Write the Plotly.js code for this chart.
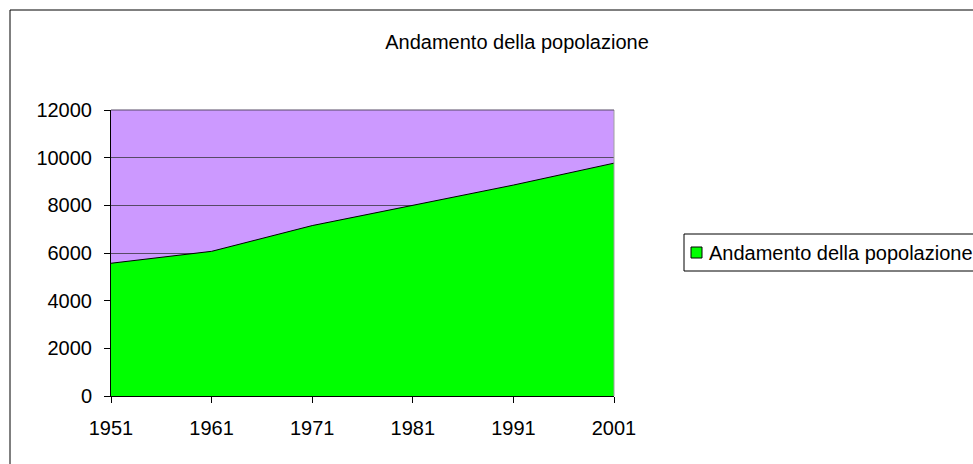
<!DOCTYPE html>
<html>
<head>
<meta charset="utf-8">
<script src="https://cdn.plot.ly/plotly-3.0.1.min.js"></script>
<style>
  body { margin: 0; background: #fff; }
  #myPlot { width: 973px; height: 464px; }
</style>
</head>
<body>
<div id="myPlot"></div>
<script>
var years = [1951, 1961, 1971, 1981, 1991, 2001]
var abitanti = [5570, 6070, 7150, 8000, 8850, 9770]
var yTicks = [0, 2000, 4000, 6000, 8000, 10000, 12000]
var seriesName = "Andamento della popolazione"
var chartTitle = "Andamento della popolazione"

// plot area in pixels: left 111, right 614, top 110, bottom 396
var L = 111, R = 614, T = 110, B = 396
var px = function (x) { return (x - L) / (R - L) }
var py = function (y) { return (B - y) / (B - T) }

var data = [{
    x: years,
    y: abitanti,
    name: seriesName,
    type: "scatter",
    mode: "lines",
    fill: "tozeroy",
    fillcolor: "#00ff00",
    line: { color: "#000000", width: 1 },
    showlegend: false
}]

var layout = {
    width: 973,
    height: 464,
    margin: { l: L, r: 973 - R, t: T, b: 464 - B, autoexpand: false },
    paper_bgcolor: "#ffffff",
    plot_bgcolor: "#cc99ff",
    font: { family: "Liberation Sans, Arial, sans-serif", size: 20, color: "#000000" },
    title: {
        text: chartTitle,
        font: { size: 20 },
        x: 517 / 973, xanchor: "center",
        y: 1 - 42 / 464, yanchor: "middle"
    },
    xaxis: {
        range: [1951, 2001],
        tickvals: years,
        ticktext: years.map(String),
        showgrid: false,
        zeroline: false,
        showline: true,
        linecolor: "#000000",
        linewidth: 1,
        ticks: "outside",
        ticklen: 6,
        tickcolor: "#000000",
        ticklabelstandoff: 8,
        tickfont: { size: 20 }
    },
    yaxis: {
        range: [0, 12000],
        tickvals: yTicks,
        ticktext: yTicks.map(String),
        showgrid: true,
        gridcolor: "#574a66",
        gridwidth: 1,
        zeroline: false,
        showline: true,
        linecolor: "#000000",
        linewidth: 1,
        ticks: "outside",
        ticklen: 6,
        tickcolor: "#000000",
        ticklabelstandoff: 8,
        tickfont: { size: 20 }
    },
    shapes: [{
        // outer chart border
        type: "rect",
        xref: "paper", yref: "paper",
        x0: px(10), x1: px(990), y0: py(480), y1: py(10),
        line: { color: "#000000", width: 1 },
        fillcolor: "rgba(0,0,0,0)",
        layer: "below"
    }, {
        // right edge of plot area
        type: "line",
        xref: "paper", yref: "paper",
        x0: 1, x1: 1, y0: 0, y1: 1,
        line: { color: "#a0a0a0", width: 1 }
    }, {
        // top gridline at 12000
        type: "line",
        xref: "paper", yref: "paper",
        x0: 0, x1: 1, y0: 1, y1: 1,
        line: { color: "#574a66", width: 1 }
    }, {
        // legend box
        type: "rect",
        xref: "paper", yref: "paper",
        x0: px(684), x1: px(1000), y0: py(271), y1: py(234),
        line: { color: "#000000", width: 1 },
        fillcolor: "#ffffff"
    }, {
        // legend key
        type: "rect",
        xref: "paper", yref: "paper",
        x0: px(691), x1: px(702), y0: py(258), y1: py(247),
        line: { color: "#000000", width: 1 },
        fillcolor: "#00ff00"
    }],
    annotations: [{
        xref: "paper", yref: "paper",
        x: px(707), y: py(252.5),
        xanchor: "left", yanchor: "middle",
        text: seriesName,
        showarrow: false,
        font: { size: 20 }
    }]
}

Plotly.newPlot("myPlot", data, layout, { displayModeBar: false, staticPlot: true })
</script>
</body>
</html>
